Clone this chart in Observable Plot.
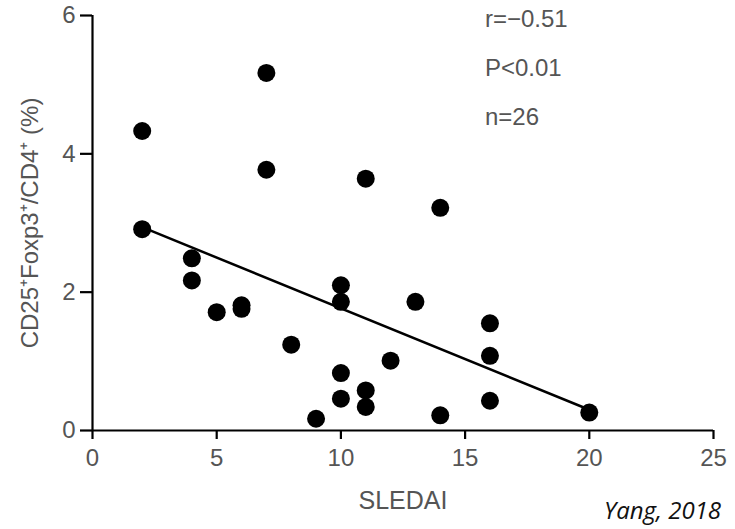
<!DOCTYPE html>
<html>
<head>
<meta charset="utf-8">
<script src="https://cdn.jsdelivr.net/npm/d3@7"></script>
<script src="https://cdn.jsdelivr.net/npm/@observablehq/plot@0.6"></script>
<style>
  html, body { margin: 0; padding: 0; background: #fff; }
  #wrap { position: relative; width: 735px; height: 529px; overflow: hidden; }
  #caption { position: absolute; left: 604px; top: 498px; font-family: "Open Sans", sans-serif; font-style: italic; font-size: 24px; line-height: 1; color: #111; white-space: nowrap; }
</style>
</head>
<body>
<div id="wrap"><div id="caption">Yang, 2018</div></div>
<script>
const sledai = [2, 2, 7, 7, 11, 14, 4, 4, 5, 6, 6, 8, 10, 10, 13, 16, 16, 12, 10, 10, 11, 11, 9, 14, 16, 20];
const tregPct = [4.33, 2.91, 5.17, 3.77, 3.64, 3.22, 2.49, 2.17, 1.71, 1.76, 1.81, 1.24, 2.10, 1.86, 1.86, 1.55, 1.08, 1.01, 0.83, 0.46, 0.58, 0.34, 0.17, 0.22, 0.43, 0.26];
const fitX = [2, 20];
const fitY = [2.94, 0.30];
const xTicks = [0, 5, 10, 15, 20, 25];
const yTicks = [0, 2, 4, 6];
const xLabel = "SLEDAI";
const yLabel = "CD25\u207AFoxp3\u207A/CD4\u207A (%)";
const statLabels = ["r=\u22120.51", "P<0.01", "n=26"];
const statX = [15.8, 15.8, 15.8];
const statY = [5.95, 5.23, 4.53];

const points = sledai.map((x, i) => ({x, y: tregPct[i]}));
const fit = fitX.map((x, i) => ({x, y: fitY[i]}));
const stats = statLabels.map((t, i) => ({t, x: statX[i], y: statY[i]}));

const plot = Plot.plot({
  width: 735,
  height: 529,
  marginLeft: 92,
  marginRight: 22,
  marginTop: 15,
  marginBottom: 99,
  style: {fontFamily: "Liberation Sans, Arial, sans-serif", fontSize: "24px", background: "#fff"},
  x: {domain: [0, 25]},
  y: {domain: [0, 6]},
  marks: [
    Plot.axisX({ticks: xTicks, tickSize: 9, tickPadding: 9, tickFormat: d => d, fontSize: 24, fill: "#555", stroke: "#000", strokeWidth: 2.2, strokeOpacity: 1, label: null}),
    Plot.axisY({ticks: yTicks, tickSize: 12, tickPadding: 5, tickFormat: d => d, fontSize: 24, fill: "#555", stroke: "#000", strokeWidth: 2.2, strokeOpacity: 1, label: null}),
    Plot.text([xLabel], {frameAnchor: "bottom", dy: 78, fontSize: 25, fill: "#555", text: d => d}),
    Plot.text([yLabel], {frameAnchor: "left", textAnchor: "middle", dx: -62, rotate: -90, fontSize: 24, fill: "#555", text: d => d}),
    Plot.ruleY([0], {stroke: "#000", strokeWidth: 2.2}),
    Plot.ruleX([0], {stroke: "#000", strokeWidth: 2.2}),
    Plot.line(fit, {x: "x", y: "y", stroke: "#000", strokeWidth: 2.5}),
    Plot.dot(points, {x: "x", y: "y", r: 9, fill: "#000", stroke: null}),
    Plot.text(stats, {x: "x", y: "y", text: "t", textAnchor: "start", fontSize: 24, fill: "#555"})
  ]
});
document.getElementById("wrap").prepend(plot);
</script>
</body>
</html>
